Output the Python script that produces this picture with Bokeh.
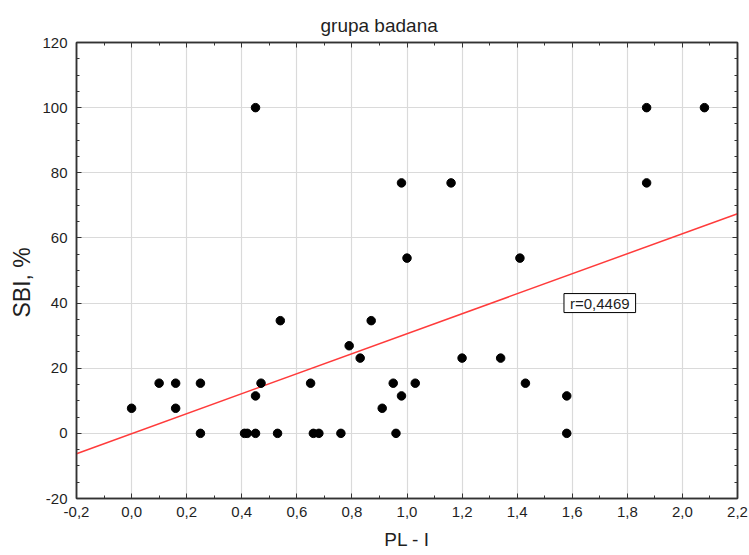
import numpy as np
from bokeh.plotting import figure
from bokeh.models import FixedTicker, LinearAxis, CustomJSTickFormatter, Label, Title
from bokeh.embed import file_html
from bokeh.resources import INLINE

# ---- data ----
pl_i = [0.00, 0.10, 0.16, 0.16, 0.25, 0.25, 0.41, 0.42, 0.45, 0.45, 0.47, 0.45,
        0.54, 0.53, 0.65, 0.66, 0.68, 0.76, 0.79, 0.83, 0.87, 0.91, 0.95, 0.96,
        0.98, 0.98, 1.00, 1.03, 1.16, 1.20, 1.34, 1.41, 1.43, 1.58, 1.58, 1.87,
        1.87, 2.08]
sbi = [7.7, 15.4, 15.4, 7.7, 15.4, 0.0, 0.0, 0.0, 0.0, 11.5, 15.4, 100.0,
       34.6, 0.0, 15.4, 0.0, 0.0, 0.0, 26.9, 23.1, 34.6, 7.7, 15.4, 0.0,
       11.5, 76.9, 53.8, 15.4, 76.9, 23.1, 23.1, 53.8, 15.4, 11.5, 0.0, 100.0,
       76.9, 100.0]
x_ticks = [-0.2, 0.0, 0.2, 0.4, 0.6, 0.8, 1.0, 1.2, 1.4, 1.6, 1.8, 2.0, 2.2]
y_ticks = [-20, 0, 20, 40, 60, 80, 100, 120]
title_text = "grupa badana"
x_label = "PL - I"
y_label = "SBI, %"
r_text = "r=0,4469"
r_x, r_y = 1.70, 40.0

x_minor = [round(-0.2 + 0.1 * i, 2) for i in range(25)]
y_minor = [-20 + 5 * i for i in range(29)]

FONT = "Liberation Sans"
AX = "#333333"
TXT = "#1f1f1f"

p = figure(width=749, height=555, output_backend="svg", toolbar_location=None,
           x_range=(-0.2, 2.2), y_range=(-20, 120),
           min_border_left=76, min_border_right=12, min_border_top=42,
           min_border_bottom=57)
p.background_fill_color = "white"
p.border_fill_color = "white"
p.outline_line_color = AX
p.outline_line_width = 1.5

p.title.text = title_text
p.title.text_font = FONT
p.title.text_font_size = "19px"
p.title.text_font_style = "normal"
p.title.text_color = TXT
p.title.align = "left"
p.title.offset = 244
p.title.standoff = 13

xt = FixedTicker(ticks=x_ticks, minor_ticks=x_minor)
yt = FixedTicker(ticks=y_ticks, minor_ticks=y_minor)
xf = CustomJSTickFormatter(code="return tick.toFixed(1).replace('.', ',');")
yf = CustomJSTickFormatter(code="return tick.toFixed(0);")
blank = CustomJSTickFormatter(code="return '';")


def style(ax, labels=True):
    ax.axis_line_color = AX
    ax.axis_line_width = 1.5
    ax.major_tick_line_color = AX
    ax.minor_tick_line_color = AX
    ax.major_tick_in = 5
    ax.major_tick_out = 0
    ax.minor_tick_in = 3
    ax.minor_tick_out = 0
    if labels:
        ax.major_label_text_font = FONT
        ax.major_label_text_font_size = "15px"
        ax.major_label_text_color = TXT
        ax.axis_label_text_font = FONT
        ax.axis_label_text_font_style = "normal"
        ax.axis_label_text_color = TXT
    else:
        ax.major_label_text_font_size = "1px"
        ax.major_label_text_color = None
        ax.major_label_standoff = 0


xa = p.xaxis[0]
xa.ticker = xt
xa.formatter = xf
xa.axis_label = x_label
style(xa)
xa.axis_label_text_font_size = "19px"
xa.major_label_standoff = 8
xa.axis_label_standoff = 9

ya = p.yaxis[0]
ya.ticker = yt
ya.formatter = yf
style(ya)
ya.major_label_standoff = 9

top = LinearAxis(ticker=xt, formatter=blank)
style(top, labels=False)
p.add_layout(top, "above")
right = LinearAxis(ticker=yt, formatter=blank)
style(right, labels=False)
p.add_layout(right, "right")

# y-axis title as a side title, so it can sit slightly below the frame centre
ytitle = Title(text=y_label, align="left", offset=181, standoff=9,
               text_font=FONT, text_font_size="23px", text_font_style="normal",
               text_color=TXT)
p.add_layout(ytitle, "left")

p.xgrid.ticker = xt
p.ygrid.ticker = yt
p.xgrid.grid_line_color = "#dadada"
p.ygrid.grid_line_color = "#dadada"
p.xgrid.grid_line_width = 1.2
p.ygrid.grid_line_width = 1.2

# regression line from the data
slope, intercept = np.polyfit(pl_i, sbi, 1)
lx = [-0.2, 2.2]
ly = [intercept + slope * v for v in lx]
p.line(lx, ly, line_color="#ff3b3b", line_width=1.5)

p.scatter(pl_i, sbi, size=8.5, fill_color="black", line_color="black")

lab = Label(x=r_x, y=r_y, text=r_text, text_align="center", text_baseline="middle",
            text_font=FONT, text_font_size="15px", text_color=TXT,
            border_line_color="black", border_line_width=1,
            background_fill_color="white",
            padding=dict(left=6, right=6, top=1, bottom=1))
p.add_layout(lab)

open("out.html", "w").write(file_html(p, INLINE))
